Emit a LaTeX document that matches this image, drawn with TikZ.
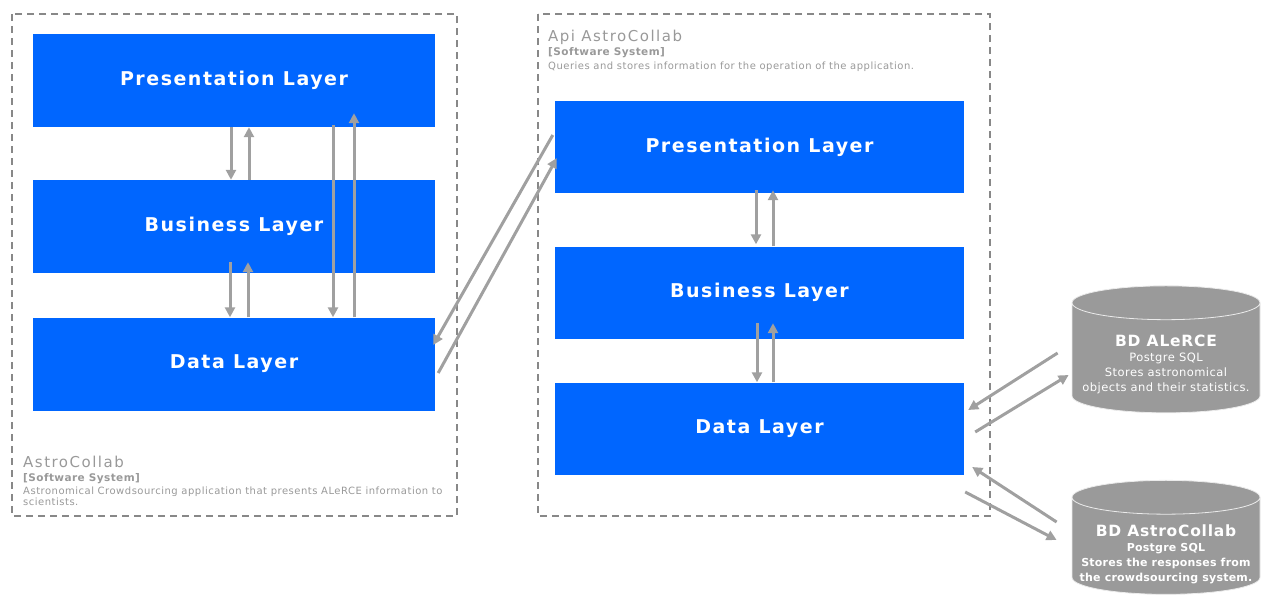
\documentclass[tikz,border=0pt]{standalone}
\usepackage{fontspec}
\setmainfont{DejaVu Sans}
\usetikzlibrary{arrows.meta}
\usetikzlibrary{positioning}
\usetikzlibrary{shapes.geometric}

\definecolor{layerblue}{HTML}{0066FF}
\definecolor{linkgray}{HTML}{A0A0A0}
\definecolor{framegray}{HTML}{888888}
\definecolor{dbgray}{HTML}{9A9A9A}
\definecolor{labelgray}{HTML}{999999}

\tikzset{
  layer/.style={fill=layerblue, text=white, inner sep=0pt,
    font=\bfseries\fontsize{19}{22}\selectfont\addfontfeature{LetterSpace=8}},
  system/.style={draw=framegray, line width=1.5pt, dash pattern=on 7pt off 5pt},
  link/.style={->, draw=linkgray, line width=3pt},
  systitle/.style={anchor=base west, inner sep=0pt, text=labelgray,
    font=\fontsize{15}{18}\selectfont\addfontfeature{LetterSpace=10}},
  systype/.style={anchor=base west, inner sep=0pt, text=labelgray,
    font=\bfseries\fontsize{10.5}{11}\selectfont\addfontfeature{LetterSpace=4}},
  sysdesc/.style={anchor=base west, inner sep=0pt, text=labelgray, align=left,
    font=\fontsize{10}{11}\selectfont\addfontfeature{LetterSpace=5}},
  database/.style={cylinder, shape border rotate=90, aspect=0.18,
    fill=dbgray, draw=white!80!dbgray, line width=0.8pt,
    minimum width=188pt, inner sep=0pt},
  dbtext/.style={text=white, inner sep=0pt, align=center,
    font=\fontsize{11.5}{15}\selectfont\addfontfeature{LetterSpace=4}}
}
\newcommand{\dbname}{\bfseries\fontsize{15.5}{15}\selectfont\addfontfeature{LetterSpace=5}}

\begin{document}
\begin{tikzpicture}[x=1pt,y=-1pt,>={Triangle[length=10pt,width=10pt]}]
    \useasboundingbox (0,0) rectangle (1264,597);

    % system boundaries
    \draw[system] (12,14) rectangle (457,516);
    \draw[system] (538,14) rectangle (990,516);

    % web application
    \node[layer, minimum width=402pt, minimum height=93pt] (lpres) at (234,80.5) {Presentation Layer};
    \node[layer, minimum width=402pt, minimum height=93pt] (lbus) at (234,226.5) {Business Layer};
    \node[layer, minimum width=402pt, minimum height=93pt] (ldata) at (234,364) {Data Layer};

    \node[systitle] (ltitle) at (23,467) {AstroCollab};
    \node[systype] (ltype) at (23,481) {[Software System]};
    \node[sysdesc] (ldesc) at (23,505) {Astronomical Crowdsourcing application that presents ALeRCE information to\\scientists.};

    % api
    \node[layer, minimum width=409pt, minimum height=92pt] (rpres) at (759.5,147) {Presentation Layer};
    \node[layer, minimum width=409pt, minimum height=92pt] (rbus) at (759.5,292.5) {Business Layer};
    \node[layer, minimum width=409pt, minimum height=92pt] (rdata) at (759.5,428.5) {Data Layer};

    \node[systitle] (rtitle) at (548,41) {Api AstroCollab};
    \node[systype] (rtype) at (548,55) {[Software System]};
    \node[sysdesc] (rdesc) at (548,69) {Queries and stores information for the operation of the application.};

    % databases
    \node[database, minimum height=127pt] (alerce) at (1166,358) {\hspace*{188pt}};
    \node[dbtext] (alercetxt) at (1166,364) {{\dbname BD ALeRCE}\\Postgre SQL\\Stores astronomical\\objects and their statistics.};
    \node[database, minimum height=114pt] (astrodb) at (1166,546) {\hspace*{188pt}};
    \node[dbtext, font=\bfseries\fontsize{11}{15}\selectfont\addfontfeature{LetterSpace=2}] (astrotxt) at (1166,554)
      {{\dbname BD AstroCollab}\\Postgre SQL\\Stores the responses from\\the crowdsourcing system.};

    % links inside the web application
    \draw[link] ([xshift=-3pt]lpres.south) -- ([xshift=-3pt]lbus.north);
    \draw[link] ([xshift=15pt]lbus.north) -- ([xshift=15pt]lpres.south);
    \draw[link] ([xshift=-4pt,yshift=11pt]lbus.south) -- ([xshift=-4pt]ldata.north);
    \draw[link] ([xshift=14pt]ldata.north) -- ([xshift=14pt,yshift=11pt]lbus.south);
    \draw[link] ([xshift=99pt,yshift=2pt]lpres.south) -- ([xshift=99pt]ldata.north);
    \draw[link] ([xshift=120pt]ldata.north) -- ([xshift=120pt,yshift=14pt]lpres.south);

    % links inside the api
    \draw[link] ([xshift=-3.5pt,yshift=3pt]rpres.south) -- ([xshift=-3.5pt,yshift=2pt]rbus.north);
    \draw[link] ([xshift=13.5pt]rbus.north) -- ([xshift=13.5pt,yshift=3pt]rpres.south);
    \draw[link] ([xshift=-2.5pt,yshift=15.5pt]rbus.south) -- ([xshift=-2.5pt]rdata.north);
    \draw[link] ([xshift=13.5pt]rdata.north) -- ([xshift=13.5pt,yshift=15.5pt]rbus.south);

    % web application <-> api
    \draw[link] ([xshift=-2pt,yshift=12pt]rpres.west) -- ([xshift=-2pt,yshift=19pt]ldata.east);
    \draw[link] ([xshift=3pt,yshift=-9pt]ldata.east) -- ([xshift=2pt,yshift=-11pt]rpres.west);

    % api <-> databases
    \draw[link] ([xshift=-14pt,yshift=5pt]alerce.west) -- ([xshift=4pt,yshift=18.5pt]rdata.east);
    \draw[link] ([xshift=11pt,yshift=-3.5pt]rdata.east) -- ([xshift=-3pt,yshift=-17pt]alerce.west);
    \draw[link] ([xshift=-15pt,yshift=24pt]astrodb.west) -- ([xshift=8pt,yshift=-38.5pt]rdata.east);
    \draw[link] ([xshift=1pt,yshift=-63.5pt]rdata.east) -- ([xshift=-15pt,yshift=6pt]astrodb.west);
\end{tikzpicture}
\end{document}
